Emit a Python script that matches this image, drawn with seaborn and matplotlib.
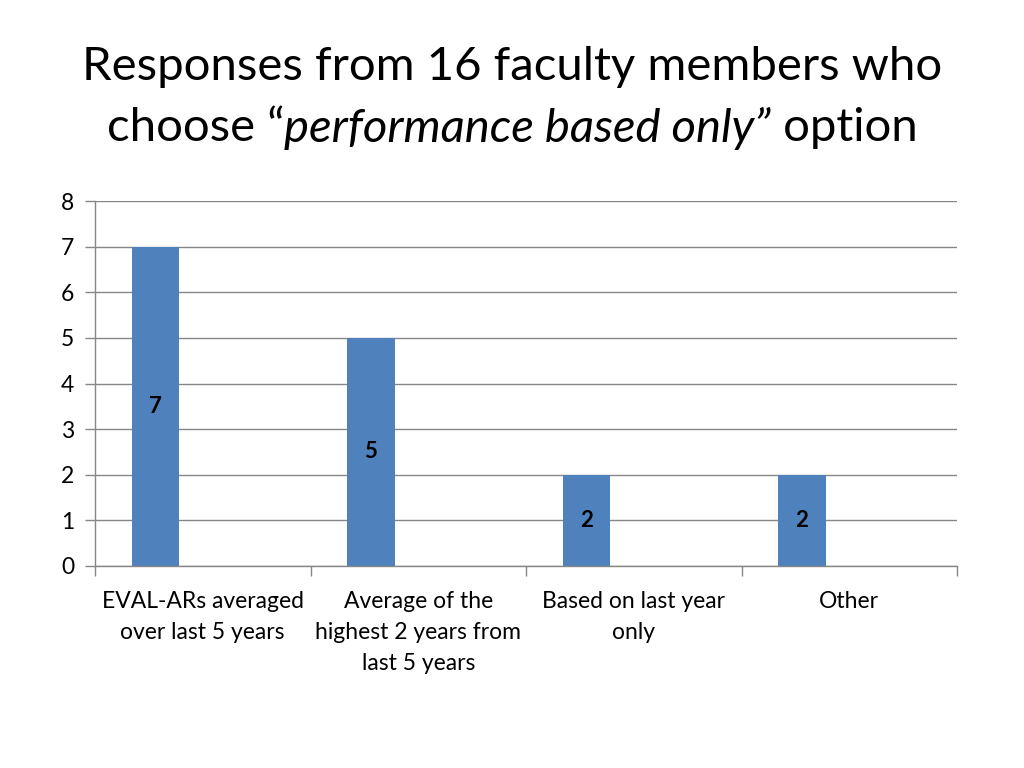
import matplotlib
matplotlib.use("Agg")
import matplotlib.pyplot as plt
import seaborn as sns
import pandas as pd
import numpy as np

categories = ["EVAL-ARs averaged\nover last 5 years",
              "Average of the\nhighest 2 years from\nlast 5 years",
              "Based on last year\nonly",
              "Other"]
series_names = ["Series1", "Series2", "Series3"]
series1 = [7, 5, 2, 2]
y_ticks = [0, 1, 2, 3, 4, 5, 6, 7, 8]

rows = []
for c, v in zip(categories, series1):
    rows.append({"cat": c, "series": "Series1", "val": v})
    rows.append({"cat": c, "series": "Series2", "val": np.nan})
    rows.append({"cat": c, "series": "Series3", "val": np.nan})
df = pd.DataFrame(rows)

sns.set_theme(style="white")
FONT = ["Lato", "DejaVu Sans"]
plt.rcParams["font.family"] = FONT

fig = plt.figure(figsize=(10.24, 7.68), dpi=100)
ax = fig.add_axes([95/1024, 1-566/768, (957-95)/1024, (566-201)/768])

BLUE = "#4F81BD"
GRID = "#868686"
sns.barplot(data=df, x="cat", y="val", hue="series", hue_order=series_names,
            order=categories, palette=[BLUE, BLUE, BLUE], width=0.66,
            errorbar=None, legend=False, ax=ax, linewidth=0, saturation=1)

ax.set_xlim(-0.5, len(categories) - 0.5)
ax.set_ylim(0, 8)
ax.set_yticks(y_ticks)
ax.set_yticklabels([str(t) for t in y_ticks], fontsize=16.5, color="black")
ax.yaxis.grid(True, color=GRID, linewidth=1)
ax.set_axisbelow(True)
ax.set_xlabel("")
ax.set_ylabel("")

for s in ["top", "right"]:
    ax.spines[s].set_visible(False)
for s in ["left", "bottom"]:
    ax.spines[s].set_color(GRID)
    ax.spines[s].set_linewidth(1)

ax.tick_params(axis="y", which="major", left=True, length=7, color=GRID, width=1, pad=8)
ax.set_xticks(range(len(categories)))
ax.set_xticklabels(categories, fontsize=16.5, color="black", linespacing=1.6)
ax.tick_params(axis="x", which="major", bottom=False, length=0, pad=18)
ax.set_xticks(np.arange(-0.5, len(categories), 1.0), minor=True)
ax.tick_params(axis="x", which="minor", bottom=True, length=7, color=GRID, width=1)
for lab in ax.get_xticklabels():
    lab.set_verticalalignment("top")

for p in ax.patches:
    h = p.get_height()
    if h is None or np.isnan(h) or h <= 0:
        continue
    ax.text(p.get_x() + p.get_width()/2, h/2, f"{int(round(h))}",
            ha="center", va="center", fontsize=16, fontweight="bold", color="black")

# Title
TSIZE = 34
fig.text(0.5, 1-67/768, "Responses from 16 faculty members who",
         ha="center", va="center", fontsize=TSIZE, color="black")
pieces = [("choose \u201c", "normal"), ("performance based only\u201d", "italic"), (" option", "normal")]
fig.canvas.draw()
r = fig.canvas.get_renderer()
objs = []
for txt, st in pieces:
    t = fig.text(0, 1-128/768, txt, ha="left", va="center", fontsize=TSIZE, style=st, color="black")
    objs.append(t)
widths = [t.get_window_extent(r).width for t in objs]
total = sum(widths)
x = 512 - total/2
for t, w in zip(objs, widths):
    t.set_x(x/1024)
    x += w

fig.savefig("out.png", dpi=100, facecolor="white")
